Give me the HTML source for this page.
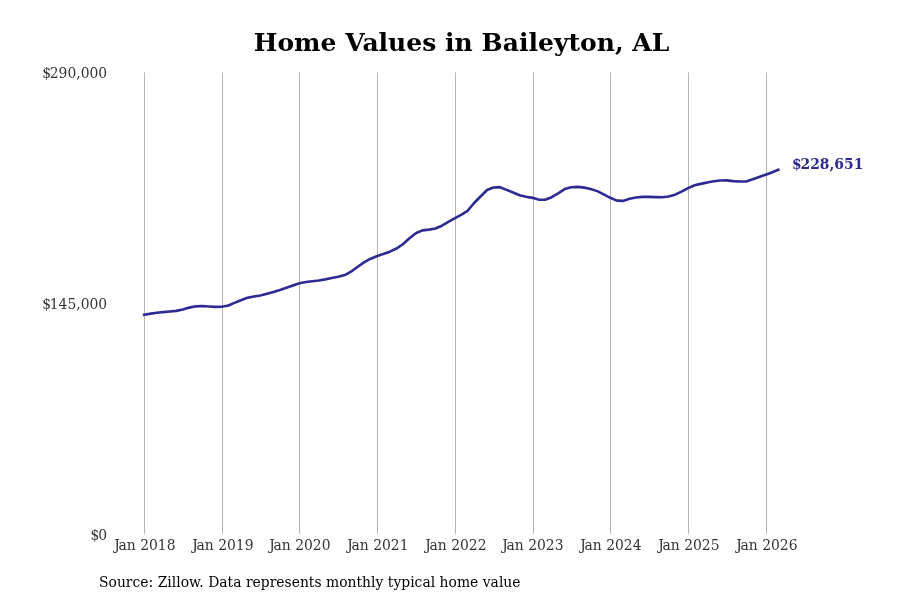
<!DOCTYPE html>
<html><head><meta charset="utf-8"><title>Home Values in Baileyton, AL</title>
<style>
html,body{margin:0;padding:0;background:#fff;}
body{width:900px;height:600px;overflow:hidden;}
svg{display:block;}
text{font-family:"DejaVu Serif","Liberation Serif",serif;}
.tick{font-size:13.89px;fill:#333;}
.title{font-size:25px;font-weight:bold;fill:#000;}
.src{font-size:13.89px;fill:#000;}
.val{font-size:13.89px;font-weight:bold;fill:#2e2a94;}
</style></head><body>
<svg width="900" height="600" viewBox="0 0 900 600">
<rect width="900" height="600" fill="#fff"/>
<g fill="#b4b4b4">
<rect x="144" y="72.4" width="1" height="461.4"/>
<rect x="222" y="72.4" width="1" height="461.4"/>
<rect x="299" y="72.4" width="1" height="461.4"/>
<rect x="377" y="72.4" width="1" height="461.4"/>
<rect x="455" y="72.4" width="1" height="461.4"/>
<rect x="533" y="72.4" width="1" height="461.4"/>
<rect x="610" y="72.4" width="1" height="461.4"/>
<rect x="688" y="72.4" width="1" height="461.4"/>
<rect x="766" y="72.4" width="1" height="461.4"/>
</g>
<path d="M144.20,314.70 L150.79,313.61 L156.75,312.81 L163.34,312.07 L169.73,311.52 L176.32,310.86 L182.70,309.42 L189.29,307.61 L195.89,306.33 L202.27,306.05 L208.86,306.48 L215.25,306.85 L221.84,306.72 L228.43,305.51 L234.39,302.87 L240.98,300.22 L247.36,297.84 L253.96,296.46 L260.34,295.47 L266.93,293.84 L273.53,291.97 L279.91,290.07 L286.50,287.79 L292.88,285.44 L299.48,283.26 L306.07,281.99 L312.24,281.18 L318.84,280.46 L325.22,279.36 L331.81,278.05 L338.19,276.76 L344.79,275.07 L351.38,271.45 L357.76,266.80 L364.36,262.19 L370.74,258.67 L377.33,255.99 L383.92,253.81 L389.88,251.65 L396.47,248.54 L402.86,244.28 L409.45,238.27 L415.83,233.19 L422.43,230.35 L429.02,229.64 L435.40,228.55 L441.99,225.68 L448.38,221.85 L454.97,218.18 L461.56,214.54 L467.52,210.79 L474.11,202.97 L480.50,196.48 L487.09,190.02 L493.47,187.48 L500.06,187.17 L506.66,189.88 L513.04,192.54 L519.63,195.20 L526.02,196.80 L532.61,197.86 L539.20,199.70 L545.16,199.78 L551.75,197.18 L558.13,193.34 L564.73,189.11 L571.11,187.19 L577.70,186.92 L584.30,187.65 L590.68,188.92 L597.27,191.12 L603.65,194.39 L610.25,197.82 L616.84,200.67 L623.01,200.89 L629.61,198.82 L635.99,197.50 L642.58,196.83 L648.96,196.84 L655.56,197.09 L662.15,197.23 L668.53,196.52 L675.13,194.66 L681.51,191.63 L688.10,188.09 L694.69,185.26 L700.65,183.86 L707.24,182.47 L713.63,181.31 L720.22,180.47 L726.60,180.33 L733.20,181.15 L739.79,181.44 L746.17,181.50 L752.76,179.28 L759.15,176.96 L765.74,174.64 L772.33,172.24 L778.29,169.73" fill="none" stroke="#2e2a94" stroke-width="2.62" stroke-linejoin="round" stroke-linecap="square"/>
<text class="title" x="461.6" y="51.2" text-anchor="middle" style="letter-spacing:0.025px">Home Values in Baileyton, AL</text>
<text class="tick" x="107.2" y="78.3" text-anchor="end" dx="0 -1.2">$290,000</text>
<text class="tick" x="107.2" y="309.2" text-anchor="end" dx="0 -1.2">$145,000</text>
<text class="tick" x="107.0" y="540" text-anchor="end" dx="0 -1.2">$0</text>
<text class="tick" x="114.17" y="550" dx="0 -1.2">Jan 2018</text>
<text class="tick" x="192.17" y="550" dx="0 -1.2">Jan 2019</text>
<text class="tick" x="269.17" y="550" dx="0 -1.2">Jan 2020</text>
<text class="tick" x="347.17" y="550" dx="0 -1.2">Jan 2021</text>
<text class="tick" x="425.17" y="550" dx="0 -1.2">Jan 2022</text>
<text class="tick" x="502.17" y="550" dx="0 -1.2">Jan 2023</text>
<text class="tick" x="580.17" y="550" dx="0 -1.2">Jan 2024</text>
<text class="tick" x="658.17" y="550" dx="0 -1.2">Jan 2025</text>
<text class="tick" x="736.17" y="550" dx="0 -1.2">Jan 2026</text>
<text class="val" x="791.9" y="168.8" dx="0 -1">$228,651</text>
<text class="src" x="99" y="587" style="letter-spacing:0.018px">Source: Zillow. Data represents monthly typical home value</text>
</svg>
</body></html>
